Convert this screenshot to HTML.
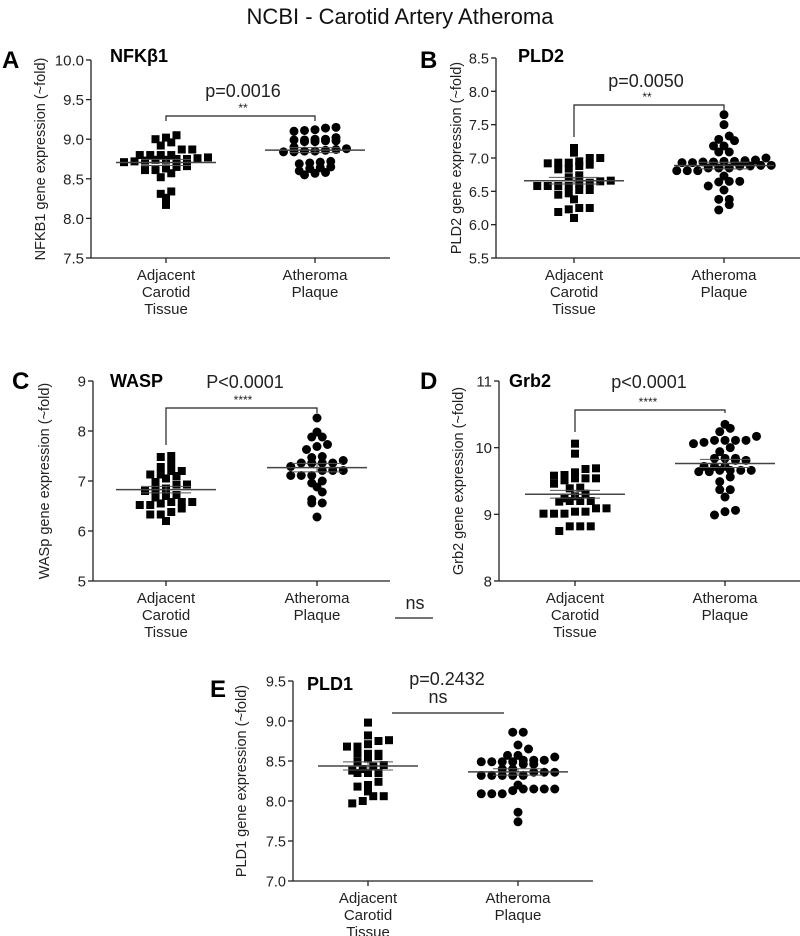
<!DOCTYPE html>
<html><head><meta charset="utf-8">
<style>
html,body{margin:0;padding:0;background:#fff;}
svg{display:block;font-family:"Liberation Sans",Arial,sans-serif;}
</style></head>
<body>
<svg id="fig" width="800" height="936" viewBox="0 0 800 936" xmlns="http://www.w3.org/2000/svg">
<text x="400" y="24" text-anchor="middle" font-size="22" fill="#111">NCBI - Carotid Artery Atheroma</text>
</svg>
<script>
// ---- data ----
const categories = ["Adjacent|Carotid|Tissue", "Atheroma|Plaque"];
const nfkbAdjacent = [9.05,9.02,9.0,8.96,8.92,8.87,8.87,8.80,8.80,8.80,8.80,8.77,8.76,8.75,8.75,8.74,8.74,8.73,8.72,8.71,8.66,8.65,8.63,8.61,8.61,8.57,8.52,8.34,8.31,8.26,8.17];
const nfkbPlaque = [9.15,9.14,9.12,9.11,9.10,9.02,9.0,9.0,8.99,8.99,8.98,8.98,8.97,8.97,8.9,8.88,8.87,8.86,8.85,8.85,8.84,8.84,8.72,8.71,8.70,8.69,8.65,8.64,8.63,8.60,8.58,8.57,8.55];
const pld2Adjacent = [7.15,7.08,7.0,7.0,6.95,6.93,6.93,6.92,6.9,6.88,6.84,6.83,6.74,6.71,6.66,6.65,6.63,6.62,6.58,6.58,6.58,6.58,6.52,6.52,6.47,6.45,6.38,6.25,6.25,6.23,6.19,6.1];
const pld2Plaque = [7.65,7.5,7.33,7.28,7.26,7.18,7.18,7.09,7.09,7.0,6.97,6.96,6.95,6.95,6.94,6.94,6.93,6.93,6.89,6.89,6.88,6.88,6.85,6.85,6.85,6.81,6.81,6.81,6.73,6.65,6.65,6.64,6.58,6.52,6.38,6.38,6.3,6.22];
const waspAdjacent = [7.5,7.48,7.35,7.28,7.2,7.2,7.13,7.13,7.1,7.05,6.98,6.93,6.93,6.85,6.83,6.8,6.72,6.7,6.67,6.58,6.58,6.58,6.55,6.52,6.52,6.45,6.38,6.33,6.33,6.2];
const waspPlaque = [8.26,7.98,7.88,7.88,7.73,7.69,7.63,7.49,7.47,7.41,7.36,7.36,7.36,7.36,7.29,7.21,7.21,7.21,7.11,7.11,7.11,7.0,6.96,6.88,6.78,6.63,6.56,6.56,6.28];
const grb2Adjacent = [10.06,9.91,9.69,9.68,9.63,9.59,9.58,9.54,9.54,9.54,9.51,9.46,9.4,9.39,9.31,9.27,9.24,9.2,9.2,9.2,9.19,9.09,9.09,9.04,9.04,9.01,9.01,9.01,8.82,8.82,8.82,8.75];
const grb2Plaque = [10.35,10.29,10.24,10.17,10.11,10.11,10.11,10.11,10.08,10.06,10.0,9.94,9.84,9.84,9.84,9.81,9.81,9.72,9.72,9.72,9.66,9.66,9.66,9.66,9.64,9.64,9.56,9.49,9.37,9.37,9.26,9.06,9.04,8.99];
const pld1Adjacent = [8.98,8.82,8.76,8.75,8.71,8.68,8.68,8.59,8.59,8.59,8.56,8.53,8.49,8.45,8.43,8.4,8.38,8.35,8.35,8.35,8.24,8.2,8.18,8.12,8.06,8.06,8.0,7.97];
const pld1Plaque = [8.86,8.86,8.7,8.65,8.57,8.57,8.55,8.51,8.51,8.51,8.49,8.49,8.49,8.49,8.46,8.46,8.4,8.4,8.36,8.36,8.36,8.32,8.32,8.32,8.32,8.32,8.2,8.15,8.15,8.15,8.15,8.13,8.09,8.09,8.09,7.86,7.74];
const ticksA = ["7.5","8.0","8.5","9.0","9.5","10.0"];
const ticksB = ["5.5","6.0","6.5","7.0","7.5","8.0","8.5"];
const ticksC = ["5","6","7","8","9"];
const ticksD = ["8","9","10","11"];
const ticksE = ["7.0","7.5","8.0","8.5","9.0","9.5"];
const pLabels = ["p=0.0016","p=0.0050","P<0.0001","p<0.0001","p=0.2432"];
const starLabels = ["**","**","****","****","ns"];

const NS = "http://www.w3.org/2000/svg";
const svg = document.getElementById("fig");
function mk(tag, attrs, parent) {
  const e = document.createElementNS(NS, tag);
  for (const k in attrs) e.setAttribute(k, attrs[k]);
  (parent || svg).appendChild(e);
  return e;
}

// row-binned scatter layout (GraphPad style)
function swarm(vals, cx, yf) {
  const bin = 8, sp = 10.5;
  const rows = {};
  vals.forEach((v, i) => {
    const y = yf(v);
    const key = Math.round(y / bin);
    (rows[key] = rows[key] || []).push(i);
  });
  const out = new Array(vals.length);
  Object.keys(rows).forEach(k => {
    const r = rows[k];
    r.sort((a, b) => vals[a] - vals[b]);
    // alternate assignment to spread around center
    const n = r.length;
    r.forEach((i, j) => {
      out[i] = [cx + (j - (n - 1) / 2) * sp, yf(vals[i])];
    });
  });
  return out;
}

function panel(cfg) {
  const g = mk("g", {});
  
  
  const ticks = cfg.ticks.map(Number);
  const lo = ticks[0], hi = ticks[ticks.length - 1];
  const yf = v => cfg.yBot - (v - lo) / (hi - lo) * (cfg.yBot - cfg.yTop);
  const ya = mk("line", {x1: cfg.ax, y1: cfg.yTop, x2: cfg.ax, y2: cfg.yBot, stroke: "#222", "stroke-width": 1.3}, g);
  
  
  const xa = mk("line", {x1: cfg.ax, y1: cfg.yBot, x2: cfg.xEnd, y2: cfg.yBot, stroke: "#222", "stroke-width": 1.3}, g);
  
  
  cfg.ticks.forEach(t => {
    const y = yf(Number(t));
    mk("line", {x1: cfg.ax - 5, y1: y, x2: cfg.ax, y2: y, stroke: "#222", "stroke-width": 1.3}, g);
    const tl = mk("text", {x: cfg.ax - 7, y: y + 5.5, "text-anchor": "end", "font-size": cfg.tf || 15, fill: "#222"}, g);
    tl.textContent = t;
    
    
  });
  const yt = mk("text", {x: 0, y: 0, "text-anchor": "middle", "font-size": 14.5, fill: "#222",
    transform: `translate(${cfg.ytx},${(cfg.yTop + cfg.yBot) / 2}) rotate(-90)`}, g);
  yt.textContent = cfg.ytitle;
  
  
  categories.forEach((c, ci) => {
    const cx = cfg.cx[ci];
    mk("line", {x1: cx, y1: cfg.yBot, x2: cx, y2: cfg.yBot + 5, stroke: "#222", "stroke-width": 1.3}, g);
    c.split("|").forEach((ln, li) => {
      const t = mk("text", {x: cx, y: cfg.yBot + 22 + li * 17, "text-anchor": "middle", "font-size": 15, fill: "#222"}, g);
      t.textContent = ln;
      
      
    });
  });
  [cfg.a, cfg.b].forEach((vals, gi) => {
    const cx = cfg.cx[gi];
    const pts = swarm(vals, cx, yf);
    pts.forEach(p => {
      let m;
      if (gi === 0) m = mk("rect", {x: p[0] - 4, y: p[1] - 4, width: 8, height: 8, fill: "#000"}, g);
      else m = mk("circle", {cx: p[0], cy: p[1], r: 4.5, fill: "#000"}, g);
      
      
    });
    const mean = vals.reduce((s, v) => s + v, 0) / vals.length;
    const sd = Math.sqrt(vals.reduce((s, v) => s + (v - mean) * (v - mean), 0) / (vals.length - 1));
    const sem = sd / Math.sqrt(vals.length);
    const my = yf(mean);
    const ml = mk("line", {x1: cx - 50, y1: my, x2: cx + 50, y2: my, stroke: "#444", "stroke-width": 1.5}, g);
    
    
    [mean + sem, mean - sem].forEach(v => {
      mk("line", {x1: cx - 25, y1: yf(v), x2: cx + 25, y2: yf(v), stroke: "#555", "stroke-width": 1}, g);
    });
    mk("line", {x1: cx, y1: yf(mean + sem), x2: cx, y2: yf(mean - sem), stroke: "#555", "stroke-width": 1}, g);
  });
  const b = cfg.br;
  if (!b.plain) {
    const bp = mk("path", {d: `M${cfg.cx[0]},${b.l} L${cfg.cx[0]},${b.y} L${cfg.cx[1]},${b.y} L${cfg.cx[1]},${b.r}`, fill: "none", stroke: "#222", "stroke-width": 1.2}, g);
    
    
  }
  const st = mk("text", {x: b.sx, y: b.sy, "text-anchor": "middle", "font-size": b.sf || 12, fill: "#222"}, g);
  st.textContent = starLabels[cfg.i];
  
  
  const pt = mk("text", {x: b.px, y: b.py, "text-anchor": "middle", "font-size": 18, fill: "#222"}, g);
  pt.textContent = pLabels[cfg.i];
  
  
  const lt = mk("text", {x: cfg.lx, y: cfg.ly, "font-size": 24, "font-weight": "bold", fill: "#000"}, g);
  lt.textContent = cfg.letter;
  
  
  const gt = mk("text", {x: cfg.gx, y: cfg.gy, "font-size": 18, "font-weight": "bold", fill: "#000"}, g);
  gt.textContent = cfg.gene;
  
  
}

panel({i:0, letter:"A", gene:"NFKβ1", a:nfkbAdjacent, b:nfkbPlaque, ticks:ticksA, ax:91, yTop:60, yBot:258, xEnd:390, cx:[166,315], ytx:45, ytitle:"NFKB1 gene expression (~fold)",
  br:{y:116, l:121, r:121, sx:243, sy:112, px:243, py:97}, lx:2, ly:68, gx:110, gy:62});
panel({i:1, letter:"B", gene:"PLD2", a:pld2Adjacent, b:pld2Plaque, ticks:ticksB, ax:496, yTop:58, yBot:258, xEnd:800, cx:[574,724], ytx:461, tf:14.5, ytitle:"PLD2 gene expression (~fold)",
  br:{y:105, l:137, r:110, sx:647, sy:101, px:646, py:87}, lx:420, ly:68, gx:518, gy:62});
panel({i:2, letter:"C", gene:"WASP", a:waspAdjacent, b:waspPlaque, ticks:ticksC, ax:93, yTop:381, yBot:581, xEnd:390, cx:[166,317], ytx:49, ytitle:"WASp gene expression (~fold)",
  br:{y:408, l:445, r:413, sx:243, sy:404, px:245, py:388}, lx:12, ly:389, gx:110, gy:387});
panel({i:3, letter:"D", gene:"Grb2", a:grb2Adjacent, b:grb2Plaque, ticks:ticksD, ax:499, yTop:381, yBot:581, xEnd:800, cx:[575,725], ytx:463, ytitle:"Grb2 gene expression (~fold)",
  br:{y:410, l:432, r:413, sx:648, sy:406, px:649, py:388}, lx:420, ly:389, gx:509, gy:387});
panel({i:4, letter:"E", gene:"PLD1", a:pld1Adjacent, b:pld1Plaque, ticks:ticksE, ax:293, yTop:681, yBot:881, xEnd:593, cx:[368,518], ytx:246, tf:14.5, ytitle:"PLD1 gene expression (~fold)",
  br:{plain:true, y:713, l:713, r:713, sx:438, sy:703, sf:18, px:447, py:685}, lx:210, ly:697, gx:307, gy:690});
(function(){
  const ln = mk("line", {x1:392, y1:713, x2:504, y2:713, stroke:"#222", "stroke-width":1.3});
  
  
  const t = mk("text", {x:415, y:609, "text-anchor":"middle", "font-size":18, fill:"#222"});
  t.textContent = "ns";
  
  
  const l2 = mk("line", {x1:395, y1:618, x2:433, y2:618, stroke:"#222", "stroke-width":1.3});
  
  
})();
</script>
</body></html>
